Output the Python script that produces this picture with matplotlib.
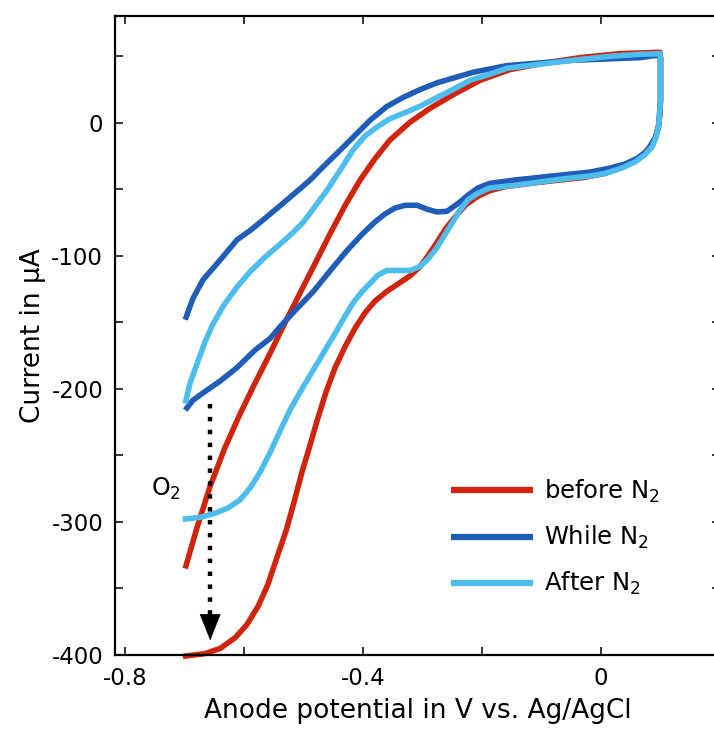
import matplotlib
matplotlib.use("Agg")
import matplotlib.pyplot as plt
from matplotlib.ticker import FixedLocator

# ---------------- data ----------------
# each curve: forward sweep (left -> right, upper branch), then reverse sweep (lower branch)
before_v = [-0.699, -0.679, -0.657, -0.632, -0.607, -0.582, -0.556, -0.531, -0.506, -0.481,
            -0.455, -0.430, -0.405, -0.380, -0.355, -0.321, -0.287, -0.245, -0.203, -0.153,
            -0.094, -0.035, 0.032, 0.099,
            0.100, 0.100, 0.100, 0.099, 0.096, 0.091, 0.082, 0.071, 0.054, 0.032,
            0.007, -0.027, -0.069, -0.119, -0.161, -0.187, -0.208, -0.227, -0.244, -0.261,
            -0.276, -0.291, -0.304, -0.321, -0.341, -0.361, -0.380, -0.397, -0.413, -0.430,
            -0.447, -0.462, -0.476, -0.489, -0.503, -0.516, -0.529, -0.545, -0.560, -0.576,
            -0.595, -0.615, -0.640, -0.666, -0.703]
before_i = [-335, -304, -273, -244, -219, -196, -173, -150, -128, -106,
            -83, -62, -43, -27, -13, 0.5, 11, 22, 32, 40,
            45, 49, 52, 53,
            49, 32, 17, 6, -4, -11.5, -18, -24, -29.5, -34,
            -38, -41, -43, -45.5, -48, -51, -55.5, -61.5, -70, -79.5,
            -90, -100, -108, -115, -121, -127, -134, -143, -154, -168,
            -184, -202, -222, -242, -263, -285, -306, -327, -347, -363,
            -377, -387, -395, -399, -401]

while_v = [-0.699, -0.686, -0.669, -0.640, -0.612, -0.590, -0.568, -0.528, -0.489, -0.467,
           -0.444, -0.417, -0.388, -0.361, -0.333, -0.304, -0.276, -0.215, -0.158, -0.047,
           0.066, 0.099,
           0.100, 0.100, 0.097, 0.091, 0.079, 0.062, 0.040, 0.015, -0.018, -0.061,
           -0.103, -0.145, -0.187, -0.207, -0.224, -0.240, -0.259, -0.276, -0.292, -0.309,
           -0.329, -0.346, -0.363, -0.380, -0.400, -0.427, -0.455, -0.484, -0.514, -0.539,
           -0.556, -0.582, -0.612, -0.640, -0.669, -0.686, -0.699]
while_i = [-148, -132, -118, -103, -88, -81, -73, -58, -43, -33,
           -23, -11, 2, 12, 19, 25, 30, 38, 43, 47,
           49, 51,
           49, 17, -2, -11.5, -20.5, -26.5, -31, -34, -37, -39,
           -41, -43, -45.5, -49, -54.5, -60.5, -66.5, -67, -65, -62,
           -62, -64, -68.5, -74.5, -83, -96, -111, -127, -141, -153,
           -162, -171, -184, -194, -203, -208.5, -216]

after_v = [-0.699, -0.691, -0.679, -0.666, -0.652, -0.634, -0.612, -0.590, -0.565, -0.539,
           -0.519, -0.501, -0.481, -0.461, -0.439, -0.417, -0.397, -0.376, -0.355, -0.333,
           -0.304, -0.276, -0.249, -0.220, -0.187, -0.158, -0.103, -0.047, 0.015, 0.066,
           0.099,
           0.100, 0.100, 0.097, 0.092, 0.086, 0.074, 0.057, 0.035, 0.007, -0.018,
           -0.061, -0.103, -0.145, -0.187, -0.207, -0.224, -0.237, -0.249, -0.261, -0.276,
           -0.291, -0.304, -0.321, -0.341, -0.360, -0.375, -0.388, -0.402, -0.417, -0.430,
           -0.444, -0.464, -0.484, -0.504, -0.523, -0.539, -0.556, -0.573, -0.590, -0.607,
           -0.627, -0.649, -0.674, -0.703]
after_i = [-211, -196, -181, -165, -151, -137, -123.5, -112, -101, -91,
           -83, -75, -63, -51, -36, -20.5, -10, -3, 3, 7,
           12.5, 19, 25, 32, 36.5, 41, 44, 47, 50, 51.5,
           52,
           49, 17, -2, -11.5, -18, -24, -29.5, -34, -38, -40,
           -42, -44.5, -47, -49, -53, -58, -65.5, -74.5, -83, -94,
           -102.5, -108, -111, -111, -111, -114.5, -120.5, -127, -135.5, -145,
           -156, -171, -186, -201, -216, -231, -247.5, -262.5, -274.5, -283.5,
           -289.5, -293.5, -296.5, -298]

labels = ["before N$_2$", "While N$_2$", "After N$_2$"]
colors = ["#D0240C", "#1F5DB8", "#4DBDED"]

x_ticks_major = [-0.8, -0.4, 0.0]
x_tick_labels = ["-0.8", "-0.4", "0"]
x_ticks_minor = [-0.6, -0.2]
y_ticks_major = [-400, -300, -200, -100, 0]
y_tick_labels = ["-400", "-300", "-200", "-100", "0"]
y_ticks_minor = [-350, -250, -150, -50, 50]

arrow_x = -0.657
arrow_y_start = -211
arrow_y_end = -389

# ---------------- figure ----------------
fig = plt.figure(figsize=(7.14, 7.31), dpi=100)
ax = fig.add_axes([115 / 714, 76 / 731, 605 / 714, 639.3 / 731])

series = [(before_v, before_i), (while_v, while_i), (after_v, after_i)]
for (v, i), lab, c in zip(series, labels, colors):
    ax.plot(v, i, color=c, lw=4, label=lab, solid_capstyle="butt",
            solid_joinstyle="round", clip_on=False)

# dotted arrow (O2)
ax.plot([arrow_x, arrow_x], [arrow_y_start, arrow_y_end + 14], color="black",
        lw=3.2, linestyle=(0, (1, 1.9)), dash_capstyle="butt", zorder=5)
ax.annotate("", xy=(arrow_x, arrow_y_end), xytext=(arrow_x, arrow_y_end + 18),
            arrowprops=dict(arrowstyle="-|>,head_length=0.9,head_width=0.36",
                            color="black", lw=0.5, mutation_scale=20,
                            shrinkA=0, shrinkB=0), zorder=6)
ax.text(-0.757, -275, "O$_2$", fontsize=17, ha="left", va="center")

ax.set_xlim(-0.817, 0.2)
ax.set_ylim(-400, 80.5)

ax.xaxis.set_major_locator(FixedLocator(x_ticks_major))
ax.set_xticklabels(x_tick_labels)
ax.xaxis.set_minor_locator(FixedLocator(x_ticks_minor))
ax.yaxis.set_major_locator(FixedLocator(y_ticks_major))
ax.set_yticklabels(y_tick_labels)
ax.yaxis.set_minor_locator(FixedLocator(y_ticks_minor))

ax.tick_params(which="both", direction="in", length=6, width=1.1,
               top=True, right=True, labelsize=16.5, pad=8.5)
for s in ax.spines.values():
    s.set_linewidth(1.6)

ax.set_xlabel("Anode potential in V vs. Ag/AgCl", fontsize=19, labelpad=6)
ax.set_ylabel("Current in µA", fontsize=19, labelpad=4)

leg = ax.legend(loc="upper left", bbox_to_anchor=(0.555, 0.277), frameon=False,
                fontsize=17.5, handlelength=3.4, handletextpad=0.45,
                labelspacing=0.78, borderpad=0, borderaxespad=0)
for h in leg.get_lines():
    h.set_linewidth(4.5)

fig.savefig("out.png", dpi=100)
